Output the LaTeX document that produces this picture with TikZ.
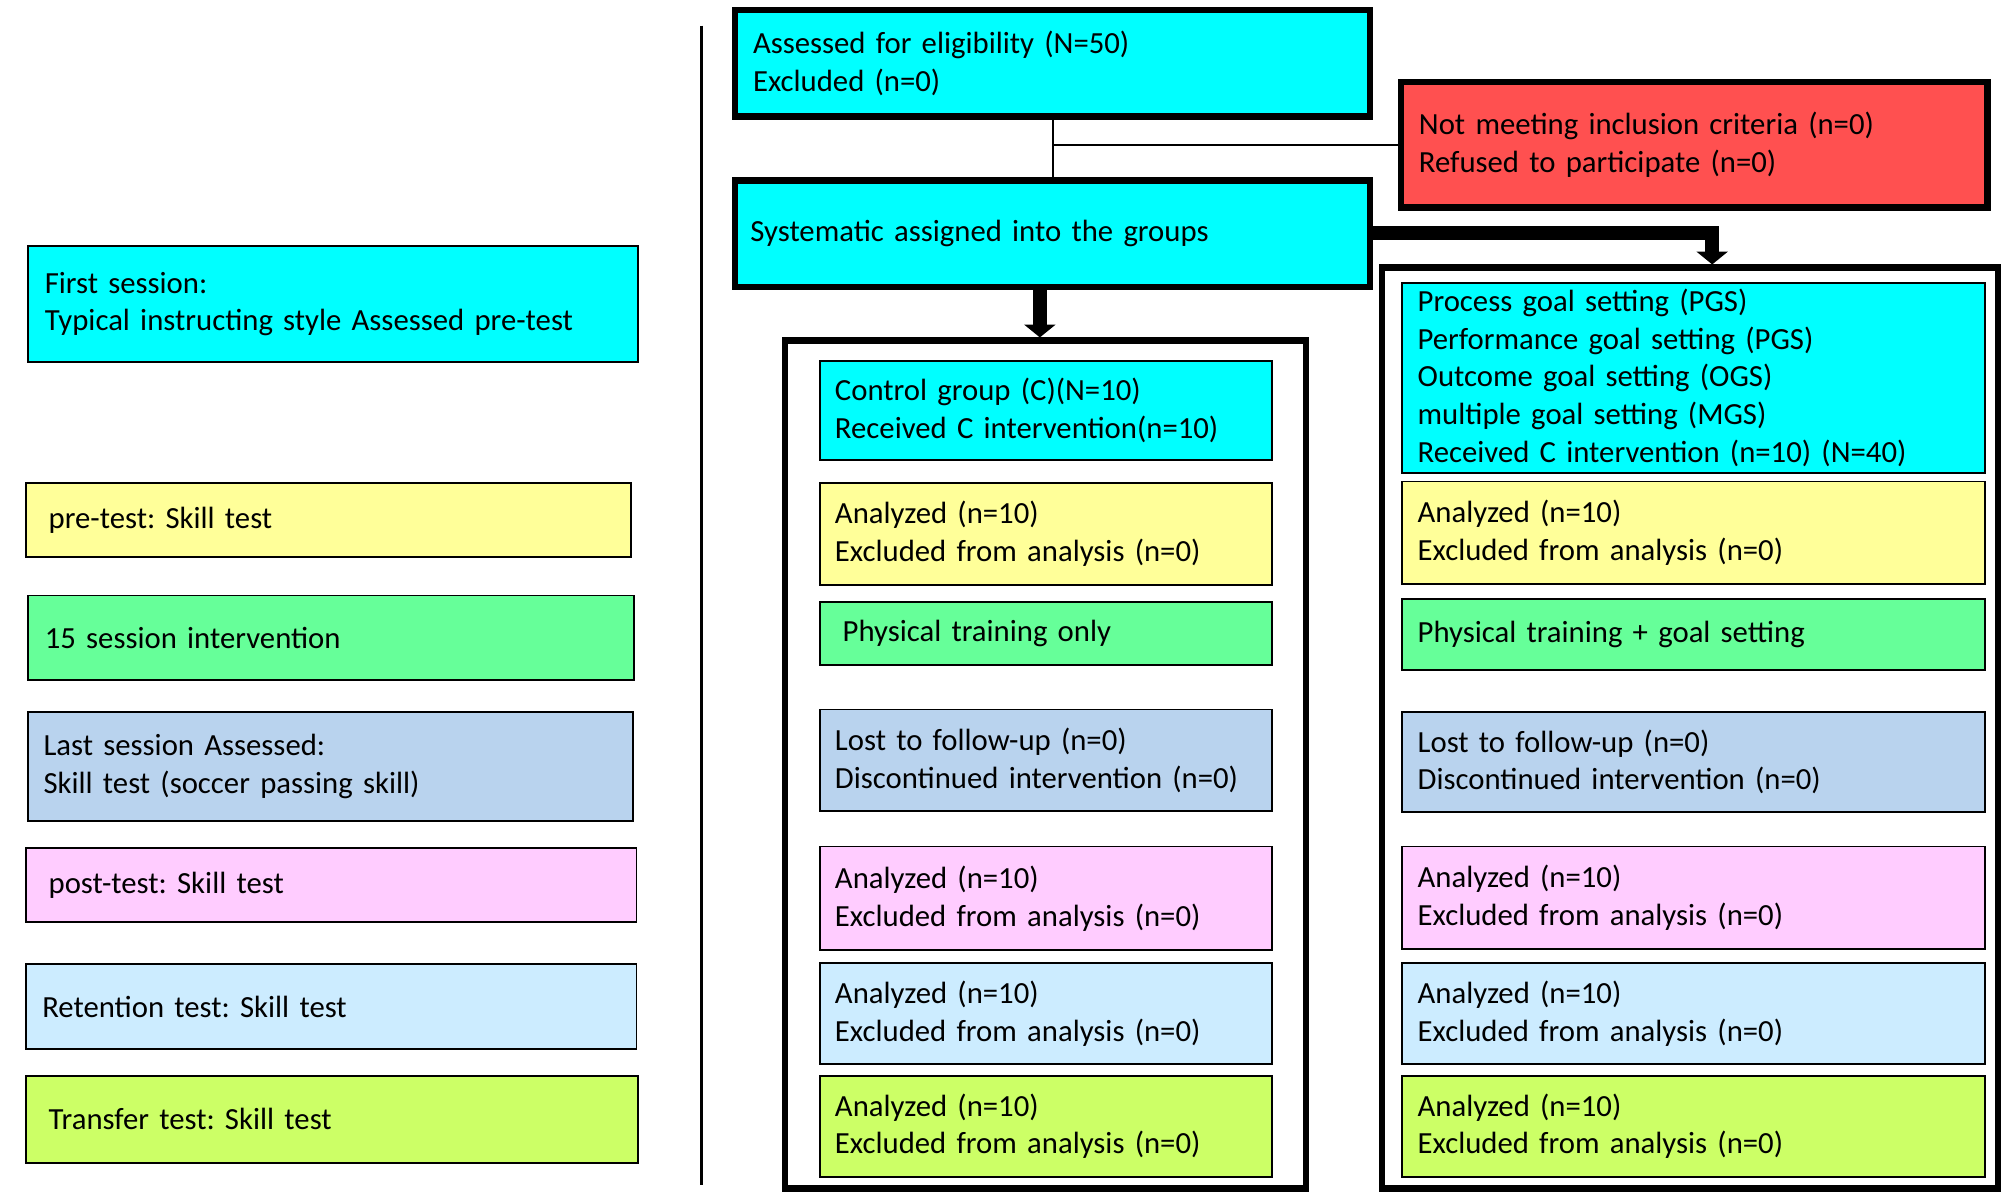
\documentclass[tikz,border=0pt]{standalone}
\usepackage{fontspec}
\setmainfont{Carlito}
\usetikzlibrary{arrows.meta}
\definecolor{cCyan}{HTML}{00FFFF}
\definecolor{cYel}{HTML}{FFFF99}
\definecolor{cGrn}{HTML}{66FF99}
\definecolor{cSteel}{HTML}{B9D3EE}
\definecolor{cPink}{HTML}{FFCCFF}
\definecolor{cLblue}{HTML}{CCECFF}
\definecolor{cLime}{HTML}{CCFF66}
\definecolor{cRed}{HTML}{FF5050}
\newcommand{\bxnode}[8]{%
  \pgfmathsetmacro\bxW{#5-#3}%
  \pgfmathsetmacro\bxH{#6-#4}%
  \pgfmathsetmacro\bxT{#5-#3-2*#7}%
  \pgfmathsetmacro\bxX{(#3+#5)/2}%
  \pgfmathsetmacro\bxY{-(#4+#6)/2-1}%
  \node[#2, minimum width=\bxW pt, minimum height=\bxH pt, text width=\bxT pt, inner xsep=#7pt, inner ysep=0pt] (#1) at (\bxX pt,\bxY pt) {#8};}
\tikzset{
  txt/.style={font=\fontsize{24}{29.5}\selectfont\frenchspacing, text=black, align=left, rectangle},
  thinbox/.style={txt, draw=black, line width=1.5pt},
  thickbox/.style={txt, draw=black, line width=5pt},
  groupbox/.style={rectangle, draw=black, line width=5pt, fill=white},
  thinline/.style={draw=black, line width=1.6pt},
  bigarrow/.style={draw=black, line width=11pt, -{Triangle[width=24pt,length=10pt]}},
}
\begin{document}
\begin{tikzpicture}[x=1pt,y=1pt]
\useasboundingbox (0,0) rectangle (1568,-935.5);
\fill[white] (0,0) rectangle (1568,-935.5);

% separator line
\coordinate (septop) at (548,-20);
\coordinate (sepbot) at (548,-925);
\draw[line width=2.6pt] (septop) -- (sepbot);

% left legend column
\bxnode{L1}{thinbox, fill=cCyan}{22}{191}{498}{282}{13}{First session:\\Typical instructing style Assessed pre-test}
\bxnode{L2}{thinbox, fill=cYel}{20}{376}{493}{434}{18}{pre-test: Skill test}
\bxnode{L3}{thinbox, fill=cGrn}{22}{464}{495}{530}{13}{15 session intervention}
\bxnode{L4}{thinbox, fill=cSteel}{22}{555}{494}{640}{12}{Last session Assessed:\\Skill test (soccer passing skill)}
\bxnode{L5}{thinbox, fill=cPink}{20}{661}{497}{719}{18}{post-test: Skill test}
\bxnode{L6}{thinbox, fill=cLblue}{20}{752}{497}{818}{13}{Retention test: Skill test}
\bxnode{L7}{thinbox, fill=cLime}{20}{839}{498}{907}{18}{Transfer test: Skill test}

% top flow
\bxnode{top}{thickbox, fill=cCyan}{574}{7}{1070}{90}{14}{Assessed for eligibility (N=50)\\Excluded (n=0)}
\bxnode{red}{thickbox, fill=cRed}{1094}{63}{1552}{161}{14}{Not meeting inclusion criteria (n=0)\\Refused to participate (n=0)}
\bxnode{sys}{thickbox, fill=cCyan}{574}{140}{1070}{223}{12}{Systematic assigned into the groups}

% group frames
\bxnode{lgrp}{groupbox}{613}{265}{1020}{927}{0}{}
\bxnode{rgrp}{groupbox}{1079}{208}{1560}{927}{0}{}

% connectors
\draw[thinline] (top.south) -- (sys.north);
\draw[thinline] (red.west) -- (red.west -| top.south);
\coordinate (larr) at (812,0);
\draw[bigarrow] (sys.south -| larr) -- (lgrp.north -| larr);
\coordinate (rturn) at (1337,-182);
\draw[bigarrow] (sys.east |- rturn) -- (rturn) -- (rturn |- rgrp.north);

% left group boxes
\bxnode{C1}{thinbox, fill=cCyan}{640}{281}{993}{358}{12}{Control group (C)(N=10)\\Received C intervention(n=10)}
\bxnode{C2}{thinbox, fill=cYel}{640}{376}{993}{456}{12}{Analyzed (n=10)\\Excluded from analysis (n=0)}
\bxnode{C3}{thinbox, fill=cGrn}{640}{469}{993}{518}{18}{Physical training only}
\bxnode{C4}{thinbox, fill=cSteel}{640}{553}{993}{632}{12}{Lost to follow-up (n=0)\\Discontinued intervention (n=0)}
\bxnode{C5}{thinbox, fill=cPink}{640}{660}{993}{741}{12}{Analyzed (n=10)\\Excluded from analysis (n=0)}
\bxnode{C6}{thinbox, fill=cLblue}{640}{751}{993}{830}{12}{Analyzed (n=10)\\Excluded from analysis (n=0)}
\bxnode{C7}{thinbox, fill=cLime}{640}{839}{993}{918}{12}{Analyzed (n=10)\\Excluded from analysis (n=0)}

% right group boxes
\bxnode{R1}{thinbox, fill=cCyan}{1095}{220}{1550}{368}{12}{Process goal setting (PGS)\\Performance goal setting (PGS)\\Outcome goal setting (OGS)\\multiple goal setting (MGS)\\Received C intervention (n=10) (N=40)}
\bxnode{R2}{thinbox, fill=cYel}{1095}{375}{1550}{455}{12}{Analyzed (n=10)\\Excluded from analysis (n=0)}
\bxnode{R3}{thinbox, fill=cGrn}{1095}{467}{1550}{522}{12}{Physical training + goal setting}
\bxnode{R4}{thinbox, fill=cSteel}{1095}{555}{1550}{633}{12}{Lost to follow-up (n=0)\\Discontinued intervention (n=0)}
\bxnode{R5}{thinbox, fill=cPink}{1095}{660}{1550}{740}{12}{Analyzed (n=10)\\Excluded from analysis (n=0)}
\bxnode{R6}{thinbox, fill=cLblue}{1095}{751}{1550}{830}{12}{Analyzed (n=10)\\Excluded from analysis (n=0)}
\bxnode{R7}{thinbox, fill=cLime}{1095}{839}{1550}{918}{12}{Analyzed (n=10)\\Excluded from analysis (n=0)}
\end{tikzpicture}
\end{document}
